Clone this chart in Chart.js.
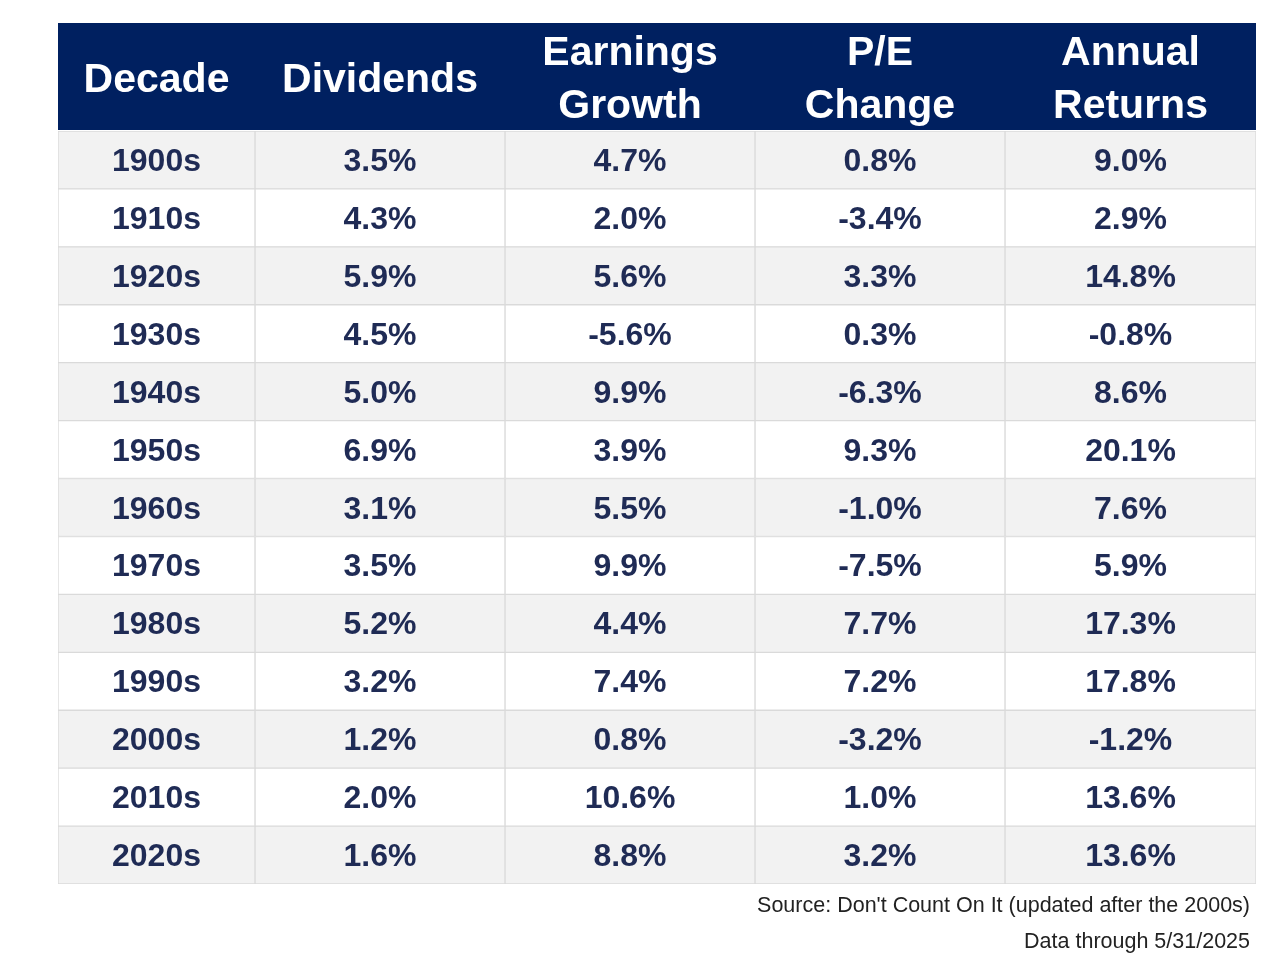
<!DOCTYPE html>
<html>
<head>
<meta charset="utf-8">
<script src="https://cdn.jsdelivr.net/npm/chart.js@4/dist/chart.umd.min.js"></script>
<style>
  html, body { margin: 0; padding: 0; background: #ffffff; }
  #wrap { width: 1262px; height: 976px; }
</style>
</head>
<body>
<div id="wrap"><canvas id="c" width="1262" height="976"></canvas></div>
<script>
// ---- Data ----
const decades = ['1900s','1910s','1920s','1930s','1940s','1950s','1960s','1970s','1980s','1990s','2000s','2010s','2020s'];
const dividends = [3.5, 4.3, 5.9, 4.5, 5.0, 6.9, 3.1, 3.5, 5.2, 3.2, 1.2, 2.0, 1.6];
const earningsGrowth = [4.7, 2.0, 5.6, -5.6, 9.9, 3.9, 5.5, 9.9, 4.4, 7.4, 0.8, 10.6, 8.8];
const peChange = [0.8, -3.4, 3.3, 0.3, -6.3, 9.3, -1.0, -7.5, 7.7, 7.2, -3.2, 1.0, 3.2];
const annualReturns = [9.0, 2.9, 14.8, -0.8, 8.6, 20.1, 7.6, 5.9, 17.3, 17.8, -1.2, 13.6, 13.6];
const headers = [['Decade'], ['Dividends'], ['Earnings', 'Growth'], ['P/E', 'Change'], ['Annual', 'Returns']];
const sourceNotes = ["Source: Don't Count On It (updated after the 2000s)", 'Data through 5/31/2025'];

// ---- Layout (not data) ----
const colWeights = [197, 250, 250, 250, 251];
const colEdges = colWeights.reduce((a, w) => { a.push(a[a.length - 1] + w); return a; }, [0]);
const columns = [decades, dividends, earningsGrowth, peChange, annualReturns];
const fmt = v => (typeof v === 'number') ? v.toFixed(1) + '%' : v;

const NAVY = '#002060';
const TEXT = '#1f2b55';
const FONT = '"Liberation Sans", Arial, "Helvetica Neue", sans-serif';

const datasets = columns.map((col, k) => ({
  label: headers[k].join(' '),
  data: decades.map(() => [colEdges[k], colEdges[k + 1]]),
  backgroundColor: ctx => (ctx.dataIndex % 2 === 0 ? '#f2f2f2' : '#ffffff'),
  borderColor: '#dadada',
  borderWidth: 1,
  borderSkipped: false,
  barPercentage: 1,
  categoryPercentage: 1,
  grouped: false
}));

const tablePlugin = {
  id: 'tablePlugin',
  beforeDatasetsDraw(chart) {
    const { ctx, chartArea } = chart;
    const xs = chart.scales.x;
    ctx.save();
    const top = 23, bottom = chartArea.top - 1;
    ctx.fillStyle = NAVY;
    ctx.fillRect(xs.getPixelForValue(colEdges[0]), top, xs.getPixelForValue(colEdges[colEdges.length - 1]) - xs.getPixelForValue(colEdges[0]), bottom - top);
    ctx.fillStyle = '#ffffff';
    ctx.font = 'bold 41px ' + FONT;
    ctx.textAlign = 'center';
    ctx.textBaseline = 'alphabetic';
    headers.forEach((lines, k) => {
      const cx = (xs.getPixelForValue(colEdges[k]) + xs.getPixelForValue(colEdges[k + 1])) / 2;
      if (lines.length === 1) {
        ctx.fillText(lines[0], cx, 92);
      } else {
        ctx.fillText(lines[0], cx, 65);
        ctx.fillText(lines[1], cx, 118);
      }
    });
    ctx.restore();
  },
  afterDatasetsDraw(chart) {
    const { ctx, chartArea } = chart;
    ctx.save();
    ctx.fillStyle = TEXT;
    ctx.font = 'bold 32px ' + FONT;
    ctx.textAlign = 'center';
    ctx.textBaseline = 'alphabetic';
    chart.data.datasets.forEach((ds, k) => {
      const meta = chart.getDatasetMeta(k);
      meta.data.forEach((el, i) => {
        const cx = (el.x + el.base) / 2;
        ctx.fillText(fmt(columns[k][i]), cx, el.y + 11);
      });
    });
    // source notes
    ctx.fillStyle = '#222222';
    ctx.font = '21.5px ' + FONT;
    ctx.textAlign = 'right';
    const rx = chartArea.right - 6;
    ctx.fillText(sourceNotes[0], rx, chartArea.bottom + 28);
    ctx.fillText(sourceNotes[1], rx, chartArea.bottom + 64);
    ctx.restore();
  }
};

new Chart(document.getElementById('c'), {
  type: 'bar',
  data: { labels: decades, datasets },
  options: {
    indexAxis: 'y',
    responsive: false,
    devicePixelRatio: 1,
    animation: false,
    layout: { padding: { left: 58, right: 6, top: 131, bottom: 92 } },
    plugins: { legend: { display: false }, tooltip: { enabled: false }, title: { display: false } },
    scales: {
      x: { type: 'linear', min: colEdges[0], max: colEdges[colEdges.length - 1], display: false },
      y: { type: 'category', offset: true, display: false }
    }
  },
  plugins: [tablePlugin]
});
</script>
</body>
</html>
